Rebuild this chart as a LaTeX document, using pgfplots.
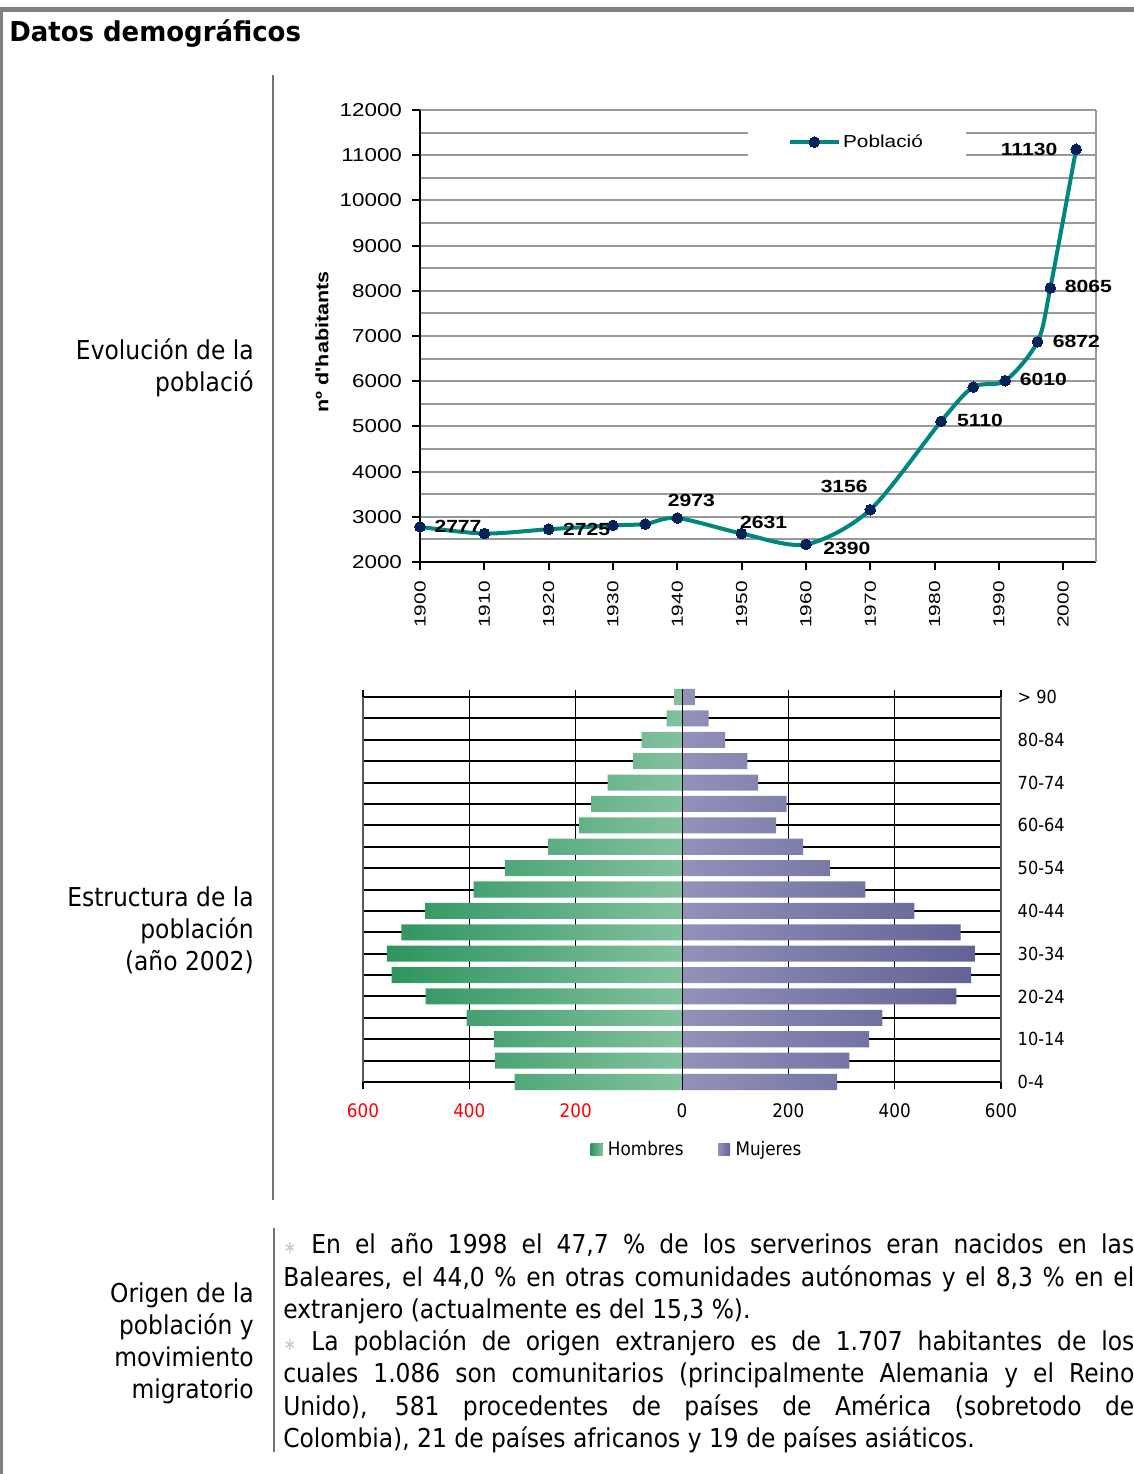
\documentclass[border=0pt]{standalone}
\usepackage{fontspec}
\usepackage{pgfplots}
\usepackage{pgfplotstable}
\pgfplotsset{compat=1.18}

\newfontfamily\dvs[FakeStretch=0.95]{DejaVu Sans}
\newfontfamily\tah[FakeStretch=0.9]{DejaVu Sans}
\newfontfamily\arw[FakeStretch=1.2]{Liberation Sans}
\newfontfamily\arx[FakeStretch=1.3]{Liberation Sans}

\definecolor{linea}{RGB}{0,134,128}
\definecolor{marca}{RGB}{0,34,90}
\definecolor{hombD}{RGB}{45,148,95}
\definecolor{hombL}{RGB}{130,193,158}
\definecolor{mujL}{RGB}{145,145,185}
\definecolor{mujD}{RGB}{98,98,150}

\newcommand\bt{\tah\fontsize{19.5}{24.2}\selectfont}
\newcommand\bul{{\color{gray!45}\fontsize{13}{13}\selectfont ∗}}
\newcommand\lab[2]{\node[anchor=base east, inner sep=0pt] at (254,#1) {\bt #2};}
\newcommand\lin[2]{\node[anchor=base west, inner sep=0pt] at (283,#1) {\bt\makebox[638.25pt][s]{#2}};}
\newcommand\linn[2]{\node[anchor=base west, inner sep=0pt] at (283,#1) {\bt #2};}

% evolucion de la poblacion
\pgfplotstableread{
yr pop
1900 2777
1910 2630
1920 2725
1930 2810
1935 2840
1940 2973
1950 2631
1960 2390
1970 3156
1981 5110
1986 5870
1991 6010
1996 6872
1998 8065
2002 11130
}\poblacio

% etiquetas (desplazamiento en px)
\pgfplotstableread{
yr pop dx dy
1900 2777 38 1
1920 2725 38 0
1940 2973 14 18
1950 2631 22 11
1960 2390 41 -4
1970 3156 -26 23
1981 5110 39 1
1991 6010 38 1
1996 6872 39 0
1998 8065 38 1
2002 11130 -47 0
}\etiq

% piramide 2002 (grupo 0 = 0-4 ... 18 = >90)
\pgfplotstableread{
g hom muj
0 -315 292
1 -352 315
2 -354 352
3 -405 377
4 -482 516
5 -546 544
6 -555 551
7 -528 524
8 -483 437
9 -392 345
10 -333 278
11 -252 228
12 -194 177
13 -171 197
14 -140 143
15 -92 123
16 -76 81
17 -29 50
18 -15 24
}\piramide

\begin{document}
\begin{tikzpicture}
\path[use as bounding box] (0pt,0pt) rectangle (850.5pt,-1105.5pt);

\begin{scope}[x=0.75pt,y=-0.75pt]
% marco
\draw[gray, line width=3.75pt] (0,9.5) -- (1134,9.5);
\draw[gray, line width=2.25pt] (1.5,9.5) -- (1.5,1474);
\draw[gray!90!black, line width=1.1pt] (273,75) -- (273,1200);
\draw[gray!90!black, line width=1.1pt] (274,1228) -- (274,1452);

\node[anchor=base west, inner sep=0pt] at (9,41) {\dvs\bfseries\fontsize{20.5}{21}\selectfont Datos demográficos};

% etiquetas de la izquierda
\lab{359}{Evolución de la}
\lab{391}{població}
\lab{906}{Estructura de la}
\lab{938}{población}
\lab{970}{(año 2002)}
\lab{1302}{Origen de la}
\lab{1334}{población y}
\lab{1366}{movimiento}
\lab{1398}{migratorio}

% texto
\lin{1253}{\makebox[21pt][l]{\bul}En el año 1998 el 47,7 \% de los serverinos eran nacidos en las}
\lin{1286}{Baleares, el 44,0 \% en otras comunidades autónomas y el 8,3 \% en el}
\linn{1318}{extranjero (actualmente es del 15,3 \%).}
\lin{1350}{\makebox[21pt][l]{\bul}La población de origen extranjero es de 1.707 habitantes de los}
\lin{1382}{cuales 1.086 son comunitarios (principalmente Alemania y el Reino}
\lin{1415}{Unido), 581 procedentes de países de América (sobretodo de}
\linn{1447}{Colombia), 21 de países africanos y 19 de países asiáticos.}
\end{scope}

% grafico de lineas
\begin{axis}[
  at={(315pt,-421.5pt)}, anchor=south west, scale only axis,
  width=507pt, height=339pt,
  xmin=1900, xmax=2005.1, ymin=2000, ymax=12000,
  clip=false,
  axis lines=left, axis line style={-, black, line width=1.5pt},
  xtick={1900,1910,...,2000},
  ytick={2000,3000,...,12000},
  minor ytick={2500,3500,...,11500},
  ymajorgrids, yminorgrids,
  major grid style={gray!80, line width=1.5pt},
  minor grid style={gray!80, line width=1.5pt},
  tick align=outside, major tick length=6pt, minor tick length=0pt,
  tick style={black, line width=1.5pt},
  scaled ticks=false,
  /pgf/number format/1000 sep={},
  /pgf/number format/assume math mode=true,
  xticklabel shift=5pt, yticklabel shift=4pt,
  xticklabel style={rotate=90, anchor=east, font=\arx\fontsize{12}{13}\selectfont},
  yticklabel style={font=\arw\fontsize{14}{15}\selectfont},
  ylabel={nº d'habitants},
  ylabel style={font=\arw\bfseries\fontsize{13.5}{14}\selectfont, at={(axis description cs:-0.145,0.487)}, anchor=center},
  legend style={at={(axis description cs:0.6464,0.929)}, anchor=center, fill=white, draw=none,
    inner xsep=30pt, inner ysep=13pt, font=\arw\fontsize{13}{14}\selectfont},
  legend image code/.code={\draw[mark repeat=2, mark phase=2, #1] plot coordinates {(0pt,0pt) (18pt,0pt) (36pt,0pt)};},
]
\addplot[color=linea, line width=3pt, smooth, mark=*, mark size=4pt,
  mark options={fill=marca, draw=marca, line width=0pt}] table[x=yr, y=pop] {\poblacio};
\addlegendentry{Població}
\addplot[forget plot, draw=none, mark=none, nodes near coords, point meta=explicit symbolic,
  visualization depends on={\thisrow{dx} \as \dx},
  visualization depends on={\thisrow{dy} \as \dy},
  every node near coord/.append style={anchor=center, inner sep=0pt, xshift={0.75pt*\dx}, yshift={0.75pt*\dy},
    font=\arw\bfseries\fontsize{13.2}{14}\selectfont, text=black}]
  table[x=yr, y=pop, meta=pop] {\etiq};
\draw[gray!80, line width=1.5pt] (rel axis cs:1,0) -- (rel axis cs:1,1);
\end{axis}

% piramide
\begin{axis}[
  at={(272.25pt,-811.5pt)}, anchor=south west, scale only axis,
  width=478.5pt, height=288.75pt,
  xmin=-600, xmax=600, ymin=0, ymax=18, clip=false,
  separate axis lines,
  x axis line style={black, line width=1.5pt},
  y axis line style={gray!70!black, line width=0.8pt},
  xtick={-600,-400,...,600},
  xticklabels={\textcolor{red}{600},\textcolor{red}{400},\textcolor{red}{200},0,200,400,600},
  ytick={0,2,...,18}, minor ytick={1,3,...,17},
  yticklabels={0-4,10-14,20-24,30-34,40-44,50-54,60-64,70-74,80-84,> 90},
  yticklabel pos=right,
  ymajorgrids, yminorgrids, xmajorgrids,
  y grid style={black, line width=1.5pt},
  x grid style={black, line width=0.6pt},
  ytick style={draw=none}, major tick length=5pt, minor tick length=0pt,
  xtick style={black, line width=0.8pt}, tick align=outside,
  xticklabel shift=8pt,
  yticklabel style={anchor=west, xshift=4pt, font=\tah\fontsize{13.5}{14}\selectfont},
  xticklabel style={font=\tah\fontsize{14}{15}\selectfont},
  legend style={at={(axis description cs:0.524,-0.174)}, anchor=center, draw=none, legend columns=2,
    font=\tah\fontsize{14}{15}\selectfont,
    /tikz/every odd column/.append style={column sep=2pt},
    /tikz/every even column/.append style={column sep=24pt}},
]
\addplot[xbar, bar width=0.75, bar shift=0pt, draw=none, left color=hombD, right color=hombL,
  legend image code/.code={\fill[left color=hombD, right color=hombL] (0pt,-4.5pt) rectangle (9pt,4.5pt);}]
  table[x=hom, y=g] {\piramide};
\addlegendentry{Hombres}
\addplot[xbar, bar width=0.75, bar shift=0pt, draw=none, left color=mujL, right color=mujD,
  legend image code/.code={\fill[left color=mujL, right color=mujD] (0pt,-4.5pt) rectangle (9pt,4.5pt);}]
  table[x=muj, y=g] {\piramide};
\addlegendentry{Mujeres}
\draw[black, line width=0.6pt] (axis cs:0,-0.375) -- (axis cs:0,18.375);
\end{axis}
\end{tikzpicture}
\end{document}
